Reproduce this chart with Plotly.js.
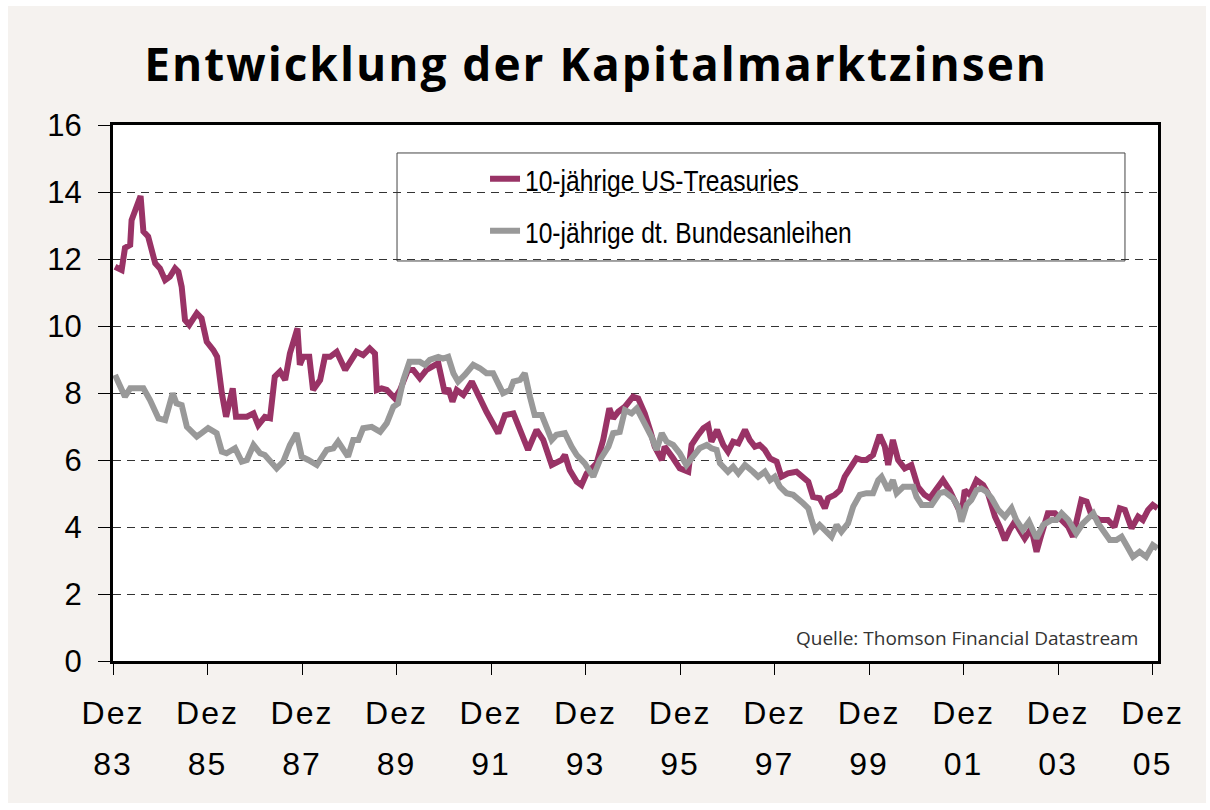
<!DOCTYPE html>
<html>
<head>
<meta charset="utf-8">
<script src="https://cdn.plot.ly/plotly-3.0.1.min.js"></script>
<style>
html,body{margin:0;padding:0;background:#ffffff;}
#chart{position:absolute;left:8px;top:6px;width:1198px;height:797px;}
.xtick text,.x2tick text{letter-spacing:2px;}
.gtitle{letter-spacing:2px;}
.legendtext{transform-box:fill-box;transform-origin:0 50%;transform:scaleX(0.82);}
</style>
</head>
<body>
<div id="chart"></div>
<script>
// Decimal-year time stamps and yields (%)
const usYears = [1983.96,1984.10,1984.17,1984.28,1984.31,1984.50,1984.56,1984.66,1984.81,1984.91,1985.02,1985.12,1985.23,1985.30,1985.37,1985.44,1985.53,1985.69,1985.79,1985.90,1986.04,1986.12,1986.22,1986.31,1986.45,1986.52,1986.75,1986.89,1986.99,1987.13,1987.24,1987.34,1987.45,1987.56,1987.66,1987.82,1987.87,1987.94,1988.07,1988.15,1988.30,1988.40,1988.51,1988.65,1988.83,1988.93,1989.07,1989.21,1989.35,1989.46,1989.50,1989.60,1989.71,1989.88,1989.99,1990.16,1990.27,1990.41,1990.55,1990.80,1990.94,1991.01,1991.10,1991.19,1991.33,1991.51,1991.68,1991.82,1992.07,1992.21,1992.39,1992.53,1992.70,1992.88,1993.02,1993.20,1993.41,1993.48,1993.58,1993.73,1993.83,1993.94,1994.15,1994.29,1994.42,1994.50,1994.61,1994.75,1994.92,1995.03,1995.17,1995.28,1995.38,1995.53,1995.59,1995.77,1995.91,1996.09,1996.16,1996.30,1996.41,1996.51,1996.58,1996.70,1996.83,1996.93,1997.04,1997.15,1997.29,1997.39,1997.50,1997.60,1997.71,1997.82,1997.96,1998.06,1998.20,1998.38,1998.52,1998.63,1998.73,1998.87,1998.98,1999.05,1999.19,1999.30,1999.40,1999.54,1999.65,1999.76,1999.86,2000.00,2000.14,2000.25,2000.32,2000.42,2000.53,2000.67,2000.81,2000.95,2001.09,2001.20,2001.34,2001.48,2001.62,2001.77,2001.87,2001.94,2002.05,2002.19,2002.33,2002.43,2002.58,2002.68,2002.79,2002.89,2003.00,2003.10,2003.21,2003.35,2003.46,2003.56,2003.70,2003.85,2003.99,2004.13,2004.23,2004.34,2004.41,2004.52,2004.62,2004.80,2004.97,2005.11,2005.22,2005.33,2005.47,2005.61,2005.71,2005.82,2005.92,2006.02];
const usValues = [11.77,11.67,12.33,12.42,13.16,13.88,12.82,12.67,11.87,11.72,11.37,11.47,11.72,11.62,11.17,10.18,10.03,10.38,10.23,9.53,9.28,9.08,7.99,7.29,8.14,7.29,7.29,7.39,7.04,7.29,7.25,8.49,8.64,8.39,9.18,9.93,8.84,9.08,9.08,8.09,8.39,9.08,9.08,9.23,8.69,8.93,9.23,9.13,9.33,9.18,8.09,8.14,8.09,7.84,8.09,8.69,8.69,8.44,8.69,8.89,7.99,8.14,7.74,8.09,7.94,8.34,7.79,7.44,6.80,7.34,7.39,6.84,6.30,6.90,6.60,5.85,6.00,6.15,5.70,5.35,5.25,5.60,5.90,6.60,7.54,7.24,7.44,7.59,7.89,7.84,7.39,6.90,6.40,6.00,6.40,6.05,5.75,5.65,6.45,6.75,6.95,7.04,6.55,6.90,6.45,6.25,6.55,6.50,6.90,6.60,6.40,6.45,6.30,6.05,5.95,5.50,5.60,5.65,5.45,5.35,4.90,4.86,4.56,4.86,4.96,5.10,5.50,5.85,6.05,6.00,6.00,6.15,6.75,6.40,5.85,6.60,6.00,5.75,5.85,5.20,4.96,4.86,5.15,5.40,5.10,4.66,4.36,5.10,4.96,5.40,5.25,5.01,4.31,4.01,3.61,3.91,4.16,3.91,3.66,3.96,3.26,3.76,4.41,4.41,4.21,4.01,3.71,4.31,4.81,4.76,4.36,4.21,4.21,4.00,4.56,4.51,3.96,4.31,4.21,4.51,4.66,4.56];

const deYears = [1983.96,1984.03,1984.17,1984.28,1984.56,1984.70,1984.88,1985.02,1985.18,1985.26,1985.37,1985.48,1985.69,1985.79,1985.93,1986.11,1986.22,1986.32,1986.50,1986.64,1986.75,1986.89,1987.03,1987.13,1987.24,1987.38,1987.52,1987.66,1987.80,1987.91,1988.05,1988.23,1988.44,1988.58,1988.68,1988.79,1988.89,1989.00,1989.11,1989.21,1989.39,1989.57,1989.71,1989.85,1989.95,1990.06,1990.19,1990.41,1990.52,1990.62,1990.80,1990.90,1991.01,1991.12,1991.22,1991.36,1991.54,1991.68,1991.82,1991.96,1992.17,1992.32,1992.39,1992.53,1992.63,1992.74,1992.84,1992.99,1993.09,1993.20,1993.30,1993.48,1993.62,1993.73,1993.90,1994.08,1994.22,1994.40,1994.50,1994.64,1994.75,1994.89,1995.00,1995.07,1995.21,1995.31,1995.42,1995.53,1995.63,1995.77,1995.91,1996.05,1996.19,1996.33,1996.48,1996.58,1996.69,1996.76,1996.93,1997.04,1997.15,1997.29,1997.46,1997.57,1997.71,1997.82,1997.92,1998.03,1998.17,1998.31,1998.52,1998.63,1998.70,1998.77,1998.87,1999.02,1999.12,1999.23,1999.33,1999.47,1999.58,1999.72,1999.86,2000.00,2000.11,2000.18,2000.32,2000.42,2000.50,2000.64,2000.85,2000.92,2001.03,2001.24,2001.41,2001.52,2001.69,2001.80,2001.87,2001.98,2002.08,2002.19,2002.29,2002.40,2002.51,2002.65,2002.79,2002.93,2003.03,2003.17,2003.30,2003.46,2003.60,2003.78,2003.88,2003.99,2004.13,2004.30,2004.44,2004.55,2004.66,2004.76,2004.87,2005.01,2005.15,2005.26,2005.36,2005.50,2005.64,2005.78,2005.92,2006.02];
const deValues = [8.54,8.34,7.89,8.14,8.14,7.79,7.24,7.19,7.99,7.69,7.64,6.99,6.70,6.80,6.95,6.80,6.25,6.20,6.35,5.95,6.00,6.45,6.20,6.15,5.95,5.75,5.95,6.45,6.80,6.10,6.00,5.85,6.30,6.35,6.55,6.35,6.10,6.60,6.60,6.95,6.99,6.84,7.10,7.59,7.69,8.39,8.93,8.93,8.84,8.99,9.08,9.03,9.08,8.59,8.34,8.54,8.84,8.74,8.59,8.59,7.99,8.09,8.34,8.39,8.59,7.89,7.34,7.34,6.99,6.60,6.75,6.80,6.40,6.15,5.90,5.50,6.00,6.40,6.80,6.84,7.49,7.39,7.54,7.34,7.04,6.70,6.30,6.80,6.55,6.45,6.20,5.85,6.10,6.35,6.45,6.35,6.30,5.90,5.65,5.80,5.60,5.85,5.65,5.50,5.65,5.40,5.50,5.20,5.01,4.96,4.71,4.56,4.21,3.91,4.06,3.81,3.71,4.06,3.86,4.11,4.61,4.96,5.01,5.01,5.40,5.50,5.10,5.40,5.01,5.20,5.20,4.90,4.66,4.66,5.01,5.05,4.86,4.61,4.16,4.66,4.81,5.10,5.15,5.05,4.86,4.51,4.31,4.56,4.21,3.91,4.16,3.66,4.06,4.21,4.21,4.41,4.21,3.81,4.11,4.26,4.41,4.11,3.91,3.61,3.61,3.71,3.46,3.11,3.26,3.11,3.46,3.36];

const seriesNames = ['10-jährige US-Treasuries', '10-jährige dt. Bundesanleihen'];
const tickYears = [1983,1985,1987,1989,1991,1993,1995,1997,1999,2001,2003,2005];
const tickMonth = 'Dez';
const yTicks = [0,2,4,6,8,10,12,14,16];

const decPos = tickYears.map(y => y + 11/12);
const yearLabels = tickYears.map(y => String(y % 100).padStart(2,'0'));

const sans = '"Liberation Sans", Arial, sans-serif';
const xRange = [1983 + 11/12, 2006.03];

const traces = [
  {x: usYears, y: usValues, name: seriesNames[0], type: 'scatter', mode: 'lines',
   line: {color: '#993366', width: 6}, legendgroup: 'a'},
  {x: deYears, y: deValues, name: seriesNames[1], type: 'scatter', mode: 'lines',
   line: {color: '#999999', width: 6}, legendgroup: 'b'},
  // empty trace that only anchors the second (year-label) x axis
  {x: [], y: [], xaxis: 'x2', yaxis: 'y', type: 'scatter', mode: 'lines', showlegend: false, hoverinfo: 'skip'}
];

const layout = {
  width: 1198, height: 797,
  paper_bgcolor: '#f5f2ef', plot_bgcolor: '#ffffff',
  margin: {l: 105, r: 48, t: 119, b: 142},
  title: {text: 'Entwicklung der Kapitalmarktzinsen', x: 0.491, xanchor: 'center', y: 0.926, yanchor: 'middle',
          font: {family: '"Open Sans", "Noto Sans", sans-serif', size: 46, color: '#000', weight: 'bold'}},
  showlegend: true,
  legend: {x: 0.356, xanchor: 'left', y: 0.948, yanchor: 'top', bgcolor: 'rgba(0,0,0,0)', borderwidth: 0,
           font: {family: sans, size: 30, color: '#000'}, tracegroupgap: 10, traceorder: 'grouped'},
  xaxis: {range: xRange, tickmode: 'array', tickvals: decPos, ticktext: decPos.map(() => tickMonth),
          showgrid: false, zeroline: false, showline: true, mirror: true, linewidth: 3, linecolor: '#000',
          ticks: 'outside', ticklen: 11, tickwidth: 1, tickcolor: '#000', ticklabelstandoff: 11,
          tickfont: {family: sans, size: 32, color: '#000'}},
  xaxis2: {range: xRange, overlaying: 'x', side: 'bottom', anchor: 'y', tickmode: 'array', tickvals: decPos, ticktext: yearLabels,
           showgrid: false, zeroline: false, showline: false, ticks: '', ticklen: 0, ticklabelstandoff: 81,
           tickfont: {family: sans, size: 32, color: '#000'}},
  yaxis: {range: [0, 16], tickmode: 'array', tickvals: yTicks, ticktext: yTicks.map(String),
          showgrid: true, gridcolor: '#333', gridwidth: 1, griddash: '8px,6px', zeroline: false,
          showline: true, mirror: true, linewidth: 3, linecolor: '#000',
          ticks: 'outside', ticklen: 12, tickwidth: 1, tickcolor: '#000', ticklabelstandoff: 10,
          tickfont: {family: sans, size: 31, color: '#000'}},
  shapes: [
    {type: 'rect', xref: 'paper', yref: 'paper', x0: 0.2718, x1: 0.9684, y0: 0.7463, y1: 0.9478,
     line: {color: '#444', width: 1}, fillcolor: '#ffffff', layer: 'below'}
  ],
  annotations: [
    {text: 'Quelle: Thomson Financial Datastream', xref: 'paper', yref: 'paper', x: 0.9828, y: 0.043,
     xanchor: 'right', yanchor: 'middle', showarrow: false,
     font: {family: '"Open Sans", "Noto Sans", sans-serif', size: 19, color: '#333'}}
  ]
};

Plotly.newPlot('chart', traces, layout, {displayModeBar: false, staticPlot: true});
</script>
</body>
</html>
